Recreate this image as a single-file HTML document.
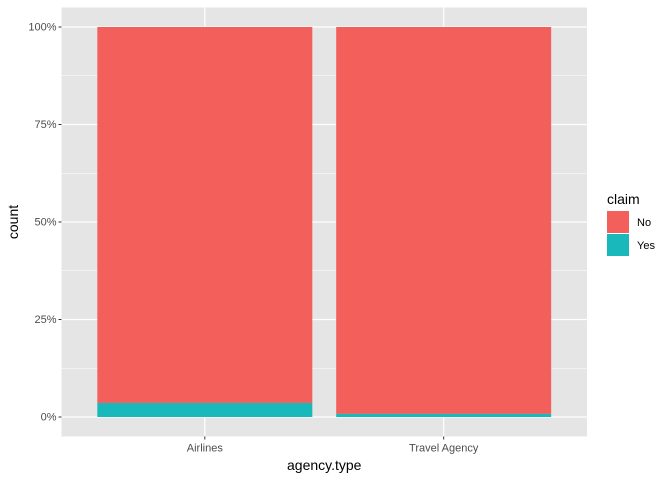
<!DOCTYPE html>
<html><head><meta charset="utf-8"><style>
body{margin:0;background:#fff;}
svg text{font-family:"Liberation Sans",sans-serif;}
</style></head><body>
<svg id="c" width="672" height="480"></svg>
<script>
const categories=["Airlines","Travel Agency"];
const noValues=[96.4,99.2];
const yesValues=[3.6,0.8];
const yTicks=[0,25,50,75,100];
const yTickLabels=["0%","25%","50%","75%","100%"];
const legendLabels=["No","Yes"];
const colors=["#F35F5B","#19B8BA"];
const NS="http://www.w3.org/2000/svg";
const svg=document.getElementById('c');
function mk(t,a,p){const e=document.createElementNS(NS,t);for(const k in a)e.setAttribute(k,a[k]);(p||svg).appendChild(e);return e;}
const PL=61.5,PR=587,PT=7.5,PB=436.5;
const y=v=>417-v*3.9;
const band=(PR-PL)/(categories.length-1+1.2);
const x=i=>PL+band*(0.6+i);
const panel=mk('rect',{x:PL,y:PT,width:PR-PL,height:PB-PT,fill:'#E5E5E5'});


for(let i=0;i<yTicks.length-1;i++){const m=(yTicks[i]+yTicks[i+1])/2;
const g=mk('line',{x1:PL,x2:PR,y1:y(m),y2:y(m),stroke:'#fff','stroke-width':0.6});
}
yTicks.forEach((t,i)=>{
const g=mk('line',{x1:PL,x2:PR,y1:y(t),y2:y(t),stroke:'#fff','stroke-width':1.2});

const tk=mk('line',{x1:PL-3,x2:PL,y1:y(t),y2:y(t),stroke:'#333','stroke-width':1});

const tx=mk('text',{x:PL-5,y:y(t)+3.5,'text-anchor':'end','font-size':11,fill:'#4D4D4D'});tx.textContent=yTickLabels[i];

});
categories.forEach((c,i)=>{
const cx=x(i);
const g=mk('line',{x1:cx,x2:cx,y1:PT,y2:PB,stroke:'#fff','stroke-width':1.2});

const w=band*0.9;
const b1=mk('rect',{x:cx-w/2,y:y(yesValues[i]+noValues[i]),width:w,height:y(yesValues[i])-y(yesValues[i]+noValues[i]),fill:colors[0]});

const b2=mk('rect',{x:cx-w/2,y:y(yesValues[i]),width:w,height:y(0)-y(yesValues[i]),fill:colors[1]});

const tk=mk('line',{x1:cx,x2:cx,y1:PB,y2:PB+3,stroke:'#333','stroke-width':1});

const tx=mk('text',{x:cx,y:PB+15,'text-anchor':'middle','font-size':11,fill:'#4D4D4D'});tx.textContent=c;

});
const xt=mk('text',{x:(PL+PR)/2,y:470,'text-anchor':'middle','font-size':14,fill:'#000'});xt.textContent='agency.type';

const yt=mk('text',{x:0,y:0,transform:'translate(18,222) rotate(-90)','text-anchor':'middle','font-size':14,fill:'#000'});yt.textContent='count';

const lt=mk('text',{x:607,y:204,'font-size':14,fill:'#000'});lt.textContent='claim';

legendLabels.forEach((l,i)=>{
const r=mk('rect',{x:607,y:211+i*23,width:22,height:22,fill:colors[i]});

const t=mk('text',{x:637,y:226+i*23,'font-size':11,fill:'#000'});t.textContent=l;

});
</script>
</body></html>
